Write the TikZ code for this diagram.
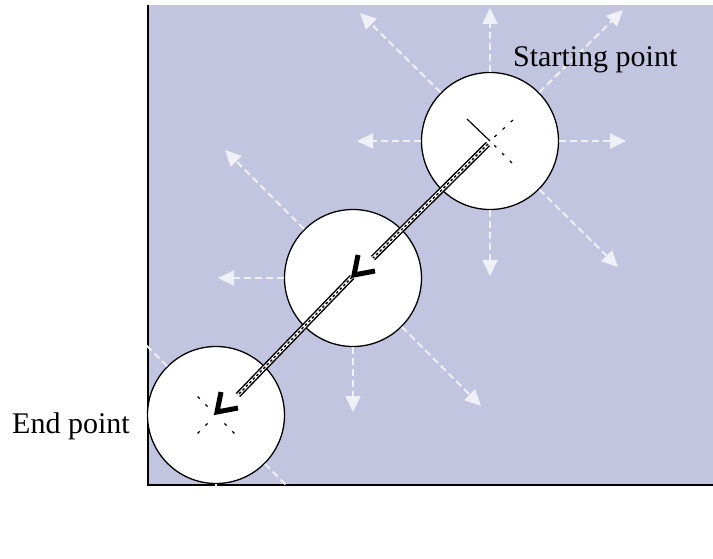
\documentclass[tikz,border=0pt]{standalone}
\usepackage{fontspec}
\setmainfont{Liberation Serif}
\usetikzlibrary{calc,arrows.meta}
\definecolor{panelblue}{RGB}{194,197,224}
\definecolor{raywhite}{RGB}{240,241,248}

\tikzset{
  probe/.style={circle,draw=black,line width=1.3pt,fill=white,minimum size=137pt,inner sep=0pt},
  ray/.style={draw=raywhite,line width=2pt,dash pattern=on 7pt off 4pt,-{Triangle[length=16pt,width=15pt]}},
  rail/.style={draw=black,line width=6pt,postaction={draw=white,line width=3pt},
               postaction={draw=black,line width=1.4pt,dash pattern=on 2.5pt off 2.5pt}},
  chevron/.style={draw=black,line width=5pt,line join=miter},
  tick/.style={draw=black,line width=1.2pt,dash pattern=on 3pt off 8pt},
  lbl/.style={font=\fontsize{30}{36}\selectfont,anchor=base west,inner sep=0pt},
}

\begin{document}
\begin{tikzpicture}[x=1pt,y=-1pt]
  \useasboundingbox (0,0) rectangle (713,559);
  % search area
  \fill[panelblue] (148,5) rectangle (713,485);
  \draw[line width=1.3pt] (148,5) -- (148,485) -- (713,485);
  % probe circles
  \node[probe] (s) at (490,141) {};
  \node[probe] (m) at (353,278) {};
  \node[probe] (e) at (216,415) {};
  % candidate directions
  \foreach \dx/\dy in {0/-133,133/-131,136/0,0/135,128/126,-133/0,-130/-128}{
    \draw[ray] (s) -- +(\dx,\dy);
  }
  \foreach \dx/\dy in {-128/-128,-135/0,0/134,128/128}{
    \draw[ray] (m) -- +(\dx,\dy);
  }
  \begin{scope}
    \clip (146,5) rectangle (713,487);
    \foreach \dx/\dy in {-130/-130,-135/0,0/135,130/130}{
      \draw[ray] (e) -- +(\dx,\dy);
    }
  \end{scope}
  % path taken
  \draw[rail] ($(s.center)+(-2,3)$) -- ($(m.center)+(20,-20)$);
  \draw[rail] ($(m.center)+(-1,-1)$) -- ($(e.center)+(22,-20)$);
  \draw[chevron] ($(m.center)+(5,-23)$) -- ($(m.center)+(1,-3)$) -- ($(m.center)+(22,-7)$);
  \draw[chevron] ($(e.center)+(5,-23)$) -- ($(e.center)+(1,-3)$) -- ($(e.center)+(22,-7)$);
  % centre marks
  \draw[line width=1.2pt] (s.center) -- +(-23,-22);
  \draw[tick,dash phase=5pt] (s.center) -- +(23,-21);
  \draw[tick,dash phase=5pt] (s.center) -- +(23,23);
  \foreach \a in {45,135,225}{
    \draw[tick] ($(e.center)+(\a:12)$) -- ($(e.center)+(\a:31)$);
  }
  % labels
  \node[lbl] (startlbl) at (513,67) {Starting point};
  \node[lbl] (endlbl) at (12,433) {End point};
\end{tikzpicture}
\end{document}
